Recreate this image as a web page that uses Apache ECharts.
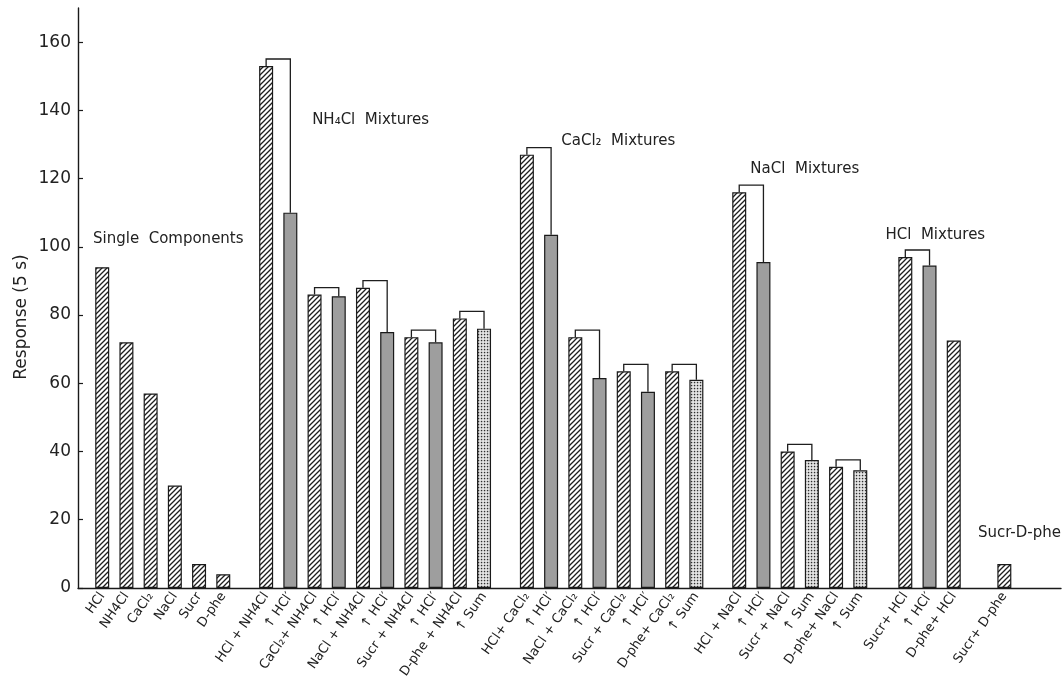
<!DOCTYPE html>
<html>
<head>
<meta charset="utf-8">
<script src="https://cdn.jsdelivr.net/npm/echarts@6/dist/echarts.min.js"></script>
<style>
  html, body { margin: 0; padding: 0; background: #fff; }
  #chart { width: 1063px; height: 681px; }
</style>
</head>
<body>
<div id="chart"></div>
<script>
// ---- Data: responses (5 s) per stimulus, grouped as in the experiment ----
const singleLabels = ['HCl', 'NH4Cl', 'CaCl₂', 'NaCl', 'Sucr', 'D-phe'];
const singleValues = [94, 72, 57, 30, 7, 4];
const singleKinds  = ['mix', 'mix', 'mix', 'mix', 'mix', 'mix'];

const nh4clLabels = ['HCl + NH4Cl', '↑ HCl′', 'CaCl₂+ NH4Cl', '↑ HCl′', 'NaCl + NH4Cl', '↑ HCl′',
                     'Sucr + NH4Cl', '↑ HCl′', 'D-phe + NH4Cl', '↑ Sum'];
const nh4clValues = [153, 110, 86, 85.5, 88, 75, 73.5, 72, 79, 76];
const nh4clKinds  = ['mix', 'ref', 'mix', 'ref', 'mix', 'ref', 'mix', 'ref', 'mix', 'sum'];

const cacl2Labels = ['HCl+ CaCl₂', '↑ HCl′', 'NaCl + CaCl₂', '↑ HCl′', 'Sucr + CaCl₂', '↑ HCl′',
                     'D-phe+ CaCl₂', '↑ Sum'];
const cacl2Values = [127, 103.5, 73.5, 61.5, 63.5, 57.5, 63.5, 61];
const cacl2Kinds  = ['mix', 'ref', 'mix', 'ref', 'mix', 'ref', 'mix', 'sum'];

const naclLabels = ['HCl + NaCl', '↑ HCl′', 'Sucr + NaCl', '↑ Sum', 'D-phe+ NaCl', '↑ Sum'];
const naclValues = [116, 95.5, 40, 37.5, 35.5, 34.5];
const naclKinds  = ['mix', 'ref', 'mix', 'sum', 'mix', 'sum'];

const hclLabels = ['Sucr+ HCl', '↑ HCl′', 'D-phe+ HCl'];
const hclValues = [97, 94.5, 72.5];
const hclKinds  = ['mix', 'ref', 'mix'];

const sucrDpheLabels = ['Sucr+ D-phe'];
const sucrDpheValues = [7];
const sucrDpheKinds  = ['mix'];

const groupTitles = ['Single  Components', 'NH₄Cl  Mixtures', 'CaCl₂  Mixtures',
                     'NaCl  Mixtures', 'HCl  Mixtures', 'Sucr-D-phe'];

const yTickValues = [0, 20, 40, 60, 80, 100, 120, 140, 160];

// ---- Layout (axis units: one unit = one bar slot) ----
const FIRST_SLOT = 1;
const GROUP_GAPS = [1.77, 1.77, 1.77, 1.86, 2.09];
const TITLE_ANCHORS = [[0.62, 102.3], [9.67, 137.2], [19.96, 131.1], [27.77, 122.8], [33.35, 103.5], [40.6, 16.1]];
const TITLE_ALIGN = ['left', 'left', 'left', 'left', 'left', 'right'];
const X_MAX = 40.6;
const FONT = 'DejaVu Sans';

const groups = [
  { labels: singleLabels, values: singleValues, kinds: singleKinds },
  { labels: nh4clLabels, values: nh4clValues, kinds: nh4clKinds },
  { labels: cacl2Labels, values: cacl2Values, kinds: cacl2Kinds },
  { labels: naclLabels, values: naclValues, kinds: naclKinds },
  { labels: hclLabels, values: hclValues, kinds: hclKinds },
  { labels: sucrDpheLabels, values: sucrDpheValues, kinds: sucrDpheKinds }
];

// ---- Fill patterns ----
function hatchPattern() {
  const c = document.createElement('canvas');
  c.width = 5; c.height = 5;
  const g = c.getContext('2d');
  g.fillStyle = '#ffffff'; g.fillRect(0, 0, 5, 5);
  g.strokeStyle = '#1e1e1e'; g.lineWidth = 1.3;
  g.beginPath();
  g.moveTo(0, 5); g.lineTo(5, 0);
  g.moveTo(-1, 1); g.lineTo(1, -1);
  g.moveTo(4, 6); g.lineTo(6, 4);
  g.stroke();
  return { image: c, repeat: 'repeat' };
}
function stipplePattern() {
  const c = document.createElement('canvas');
  c.width = 3; c.height = 3;
  const g = c.getContext('2d');
  g.fillStyle = '#efefef'; g.fillRect(0, 0, 3, 3);
  g.fillStyle = '#2e2e2e';
  g.fillRect(0.8, 0.8, 1.5, 1.5);
  return { image: c, repeat: 'repeat' };
}
const FILLS = { mix: hatchPattern(), ref: '#9e9e9e', sum: stipplePattern() };

// ---- Build bars, labels and brackets ----
const positions = [], labels = [], barData = [], brackets = [];
let slot = FIRST_SLOT;
groups.forEach((grp, gi) => {
  grp.values.forEach((v, i) => {
    const x = slot + i;
    positions.push(x);
    labels.push(grp.labels[i]);
    barData.push({ value: [x, v], itemStyle: { color: FILLS[grp.kinds[i]] } });
    if (grp.kinds[i] !== 'mix') {
      brackets.push([x - 1, x, grp.values[i - 1], v]);
    }
  });
  slot += grp.values.length - 1 + (GROUP_GAPS[gi] || 0);
});

function labelFor(value) {
  for (let i = 0; i < positions.length; i++) {
    if (Math.abs(positions[i] - value) < 1e-6) return labels[i];
  }
  return '';
}

const chart = echarts.init(document.getElementById('chart'), null, { renderer: 'canvas' });

chart.setOption({
  animation: false,
  backgroundColor: '#ffffff',
  grid: { left: 78, right: 2, top: 8, bottom: 91, containLabel: false },
  xAxis: {
    type: 'value',
    min: 0,
    max: X_MAX,
    splitLine: { show: false },
    axisLine: { show: true, onZero: false, lineStyle: { color: '#1a1a1a', width: 1.4 } },
    axisTick: { show: false },
    axisLabel: {
      customValues: positions,
      formatter: labelFor,
      rotate: 55,
      margin: 6,
      fontSize: 13,
      fontFamily: FONT,
      color: '#222'
    }
  },
  yAxis: {
    type: 'value',
    min: 0,
    max: 170,
    interval: 20,
    splitLine: { show: false },
    axisLine: { show: true, lineStyle: { color: '#1a1a1a', width: 1.4 } },
    axisTick: { show: true, inside: true, length: 5, customValues: yTickValues, lineStyle: { color: '#1a1a1a', width: 1.2 } },
    axisLabel: { customValues: yTickValues, fontSize: 17, fontFamily: FONT, color: '#222', margin: 7 }
  },
  graphic: [{
    type: 'text',
    x: 22, y: 317,
    rotation: Math.PI / 2,
    style: { text: 'Response (5 s)', fontSize: 17, fontFamily: FONT, fill: '#222', align: 'center', verticalAlign: 'middle' }
  }],
  series: [
    {
      type: 'bar',
      data: barData,
      barWidth: 14,
      itemStyle: { borderColor: '#1a1a1a', borderWidth: 1.2 },
      silent: true
    },
    {
      type: 'custom',
      data: brackets,
      encode: { x: [0, 1], y: [2, 3] },
      silent: true,
      clip: false,
      renderItem: function (params, api) {
        const p1 = api.coord([api.value(0), api.value(2)]);
        const p2 = api.coord([api.value(1), api.value(3)]);
        const top = Math.min(p1[1], p2[1]) - 7;
        return {
          type: 'polyline',
          shape: { points: [[p1[0], p1[1]], [p1[0], top], [p2[0], top], [p2[0], p2[1]]] },
          style: { stroke: '#1e1e1e', lineWidth: 1.3, fill: null }
        };
      }
    },
    {
      type: 'custom',
      data: TITLE_ANCHORS,
      encode: { x: 0, y: 1 },
      silent: true,
      clip: false,
      renderItem: function (params, api) {
        const p = api.coord([api.value(0), api.value(1)]);
        return {
          type: 'text',
          x: p[0], y: p[1],
          style: {
            text: groupTitles[params.dataIndex],
            fontSize: 15, fontFamily: FONT, fill: '#222',
            align: TITLE_ALIGN[params.dataIndex], verticalAlign: 'middle'
          }
        };
      }
    }
  ]
});
</script>
</body>
</html>
